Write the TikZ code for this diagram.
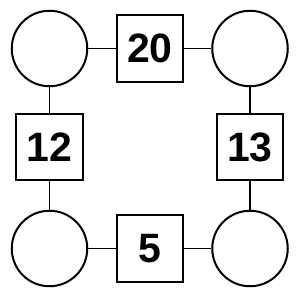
\documentclass[tikz,border=0pt]{standalone}
\usepackage{fontspec}
\setmainfont{Liberation Sans}
\begin{document}
\begin{tikzpicture}[x=1pt,y=-1pt,
  blank/.style={circle,draw,line width=2pt,minimum size=75.5pt,inner sep=0pt},
  numbox/.style={rectangle,draw,line width=2pt,minimum size=66.5pt,inner sep=0pt,font=\fontsize{41}{41}\selectfont\bfseries},
  link/.style={line width=1.6pt}]
\useasboundingbox (0,0) rectangle (300,300);
\node[blank] (tl) at (49.5,48.5) {};
\node[blank] (tr) at (250,48.5) {};
\node[blank] (bl) at (49.5,248.5) {};
\node[blank] (br) at (250,248.5) {};
\node[numbox] (top) at (150,48.5) {20};
\node[numbox] (left) at (49.5,147) {12};
\node[numbox] (right) at (250,147) {13};
\node[numbox] (bot) at (150,248.5) {5};
\draw[link] (tl) -- (top);
\draw[link] (top) -- (tr);
\draw[link] (tl) -- (left);
\draw[link] (left) -- (bl);
\draw[link] (tr) -- (right);
\draw[link] (right) -- (br);
\draw[link] (bl) -- (bot);
\draw[link] (bot) -- (br);
\end{tikzpicture}
\end{document}
